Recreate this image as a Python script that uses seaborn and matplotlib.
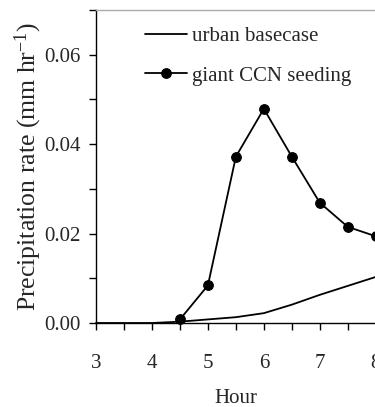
import matplotlib
matplotlib.use("Agg")
import matplotlib.pyplot as plt
import seaborn as sns
import pandas as pd
from matplotlib.ticker import MultipleLocator, FormatStrFormatter

hours_base = [3, 3.5, 4, 4.5, 5, 5.5, 6, 6.5, 7, 7.5, 8]
urban_basecase = [0, 0, 0, 0.0003, 0.0008, 0.0013, 0.0022, 0.0041, 0.0063, 0.0083, 0.0103]
hours_seed = [4.5, 5, 5.5, 6, 6.5, 7, 7.5, 8]
giant_ccn = [0.0008, 0.0084, 0.0372, 0.0479, 0.0372, 0.0269, 0.0215, 0.0194]
labels = ["urban basecase", "giant CCN seeding"]

sns.set_style("ticks")
plt.rcParams['font.family'] = ['Liberation Serif', 'DejaVu Serif']
plt.rcParams['mathtext.default'] = 'regular'

df_base = pd.DataFrame({"Hour": hours_base, "rate": urban_basecase})
df_seed = pd.DataFrame({"Hour": hours_seed, "rate": giant_ccn})

fig = plt.figure(figsize=(3.75, 4.07), dpi=100)
ax = fig.add_axes([0.256, 0.2064, 0.746, 0.7690])

sns.lineplot(data=df_base, x="Hour", y="rate", ax=ax, color="black", lw=1.3,
             label=labels[0], clip_on=False)
sns.lineplot(data=df_seed, x="Hour", y="rate", ax=ax, color="black", lw=1.3,
             marker="o", markersize=7, markeredgecolor="black", label=labels[1],
             clip_on=False)

ax.set_xlim(3, 8)
ax.set_ylim(0, 0.07)
ax.xaxis.set_major_locator(MultipleLocator(1))
ax.xaxis.set_minor_locator(MultipleLocator(0.5))
ax.yaxis.set_major_locator(MultipleLocator(0.02))
ax.yaxis.set_minor_locator(MultipleLocator(0.01))
ax.yaxis.set_major_formatter(FormatStrFormatter('%.2f'))

fs = 15
ax.tick_params(axis='both', which='both', direction='out', length=5, width=1,
               color='black', labelsize=fs)
ax.tick_params(axis='x', which='major', pad=17)
ax.tick_params(axis='y', which='major', pad=6)

for s in ['left', 'bottom']:
    ax.spines[s].set_color('black')
    ax.spines[s].set_linewidth(1)
ax.spines['top'].set_color('#aaaaaa')
ax.spines['top'].set_linewidth(1)
ax.spines['right'].set_visible(False)

ax.set_xlabel("Hour", fontsize=fs, labelpad=12)
ax.set_ylabel("Precipitation rate (mm hr$^{-1}$)", fontsize=18.5, labelpad=0)

leg = ax.legend(loc='upper left', bbox_to_anchor=(0.115, 1.0), frameon=False,
                fontsize=fs, handlelength=2.0, handletextpad=0.25,
                labelspacing=0.95, borderaxespad=0.4)

fig.savefig("out.png", dpi=100)
